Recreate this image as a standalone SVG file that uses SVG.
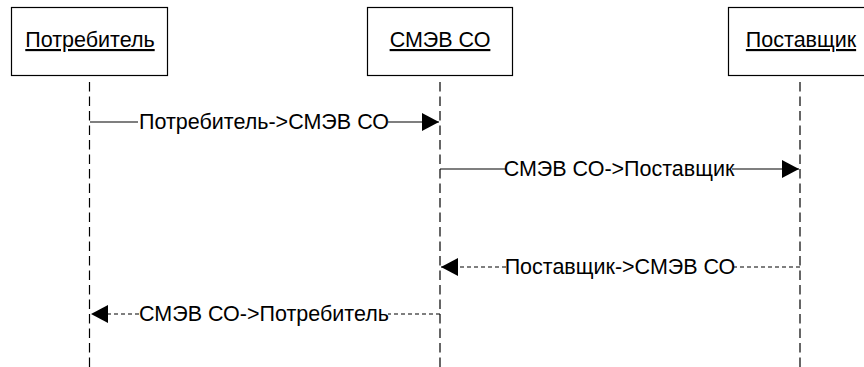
<svg xmlns="http://www.w3.org/2000/svg" width="864" height="367" viewBox="0 0 864 367">
  <style>
    .box { fill: #ffffff; stroke: #000000; stroke-width: 1.2; }
    .name { font-family: "Liberation Sans", Arial, sans-serif; font-size: 21.5px; fill: #000000; text-anchor: middle; text-decoration: underline; }
    .life { stroke: #000000; stroke-width: 1.2; stroke-dasharray: 9.5 5; fill: none; }
    .msg { stroke: #000000; stroke-width: 1.2; fill: none; }
    .reply { stroke: #000000; stroke-width: 1.2; fill: none; stroke-dasharray: 4 3; }
    .label { font-family: "Liberation Sans", Arial, sans-serif; font-size: 21.5px; fill: #000000; text-anchor: middle; }
    .knock { fill: #ffffff; }
  </style>
  <defs>
    <marker id="head" viewBox="0 0 17 18" refX="17" refY="9" markerWidth="17" markerHeight="18" markerUnits="userSpaceOnUse" orient="auto">
      <path d="M0,0 L17,9 L0,18 Z" fill="#000000"/>
    </marker>
  </defs>
  <rect width="864" height="367" fill="#ffffff"/>

  <!-- lifelines -->
  <g id="lifelines">
    <line class="life" x1="89.5" y1="82" x2="89.5" y2="367"/>
    <line class="life" x1="440" y1="82" x2="440" y2="367"/>
    <line class="life" x1="800" y1="82" x2="800" y2="367"/>
  </g>

  <!-- participants -->
  <g id="consumer">
    <rect class="box" x="11.5" y="7.5" width="156" height="68"/>
    <text class="name" x="90" y="47">Потребитель</text>
  </g>
  <g id="smev">
    <rect class="box" x="367.5" y="7.5" width="145" height="68"/>
    <text class="name" x="440" y="47">СМЭВ СО</text>
  </g>
  <g id="supplier">
    <rect class="box" x="728.5" y="7.5" width="145" height="68"/>
    <text class="name" x="801" y="47">Поставщик</text>
  </g>

  <!-- messages -->
  <g id="connectors">
    <line class="msg" x1="90" y1="122" x2="439" y2="122" marker-end="url(#head)"/>
    <rect class="knock" x="138" y="112" width="250" height="20"/>
    <text class="label" x="264" y="128.5">Потребитель-&gt;СМЭВ СО</text>

    <line class="msg" x1="440" y1="169" x2="799" y2="169" marker-end="url(#head)"/>
    <rect class="knock" x="506" y="159" width="226" height="20"/>
    <text class="label" x="619" y="175.5">СМЭВ СО-&gt;Поставщик</text>

    <line class="reply" x1="800" y1="267" x2="441" y2="267" marker-end="url(#head)"/>
    <rect class="knock" x="506" y="257" width="228" height="20"/>
    <text class="label" x="620" y="273.5">Поставщик-&gt;СМЭВ СО</text>

    <line class="reply" x1="440" y1="314" x2="91" y2="314" marker-end="url(#head)"/>
    <rect class="knock" x="140" y="304" width="248" height="20"/>
    <text class="label" x="264" y="320.5">СМЭВ СО-&gt;Потребитель</text>
  </g>
</svg>
